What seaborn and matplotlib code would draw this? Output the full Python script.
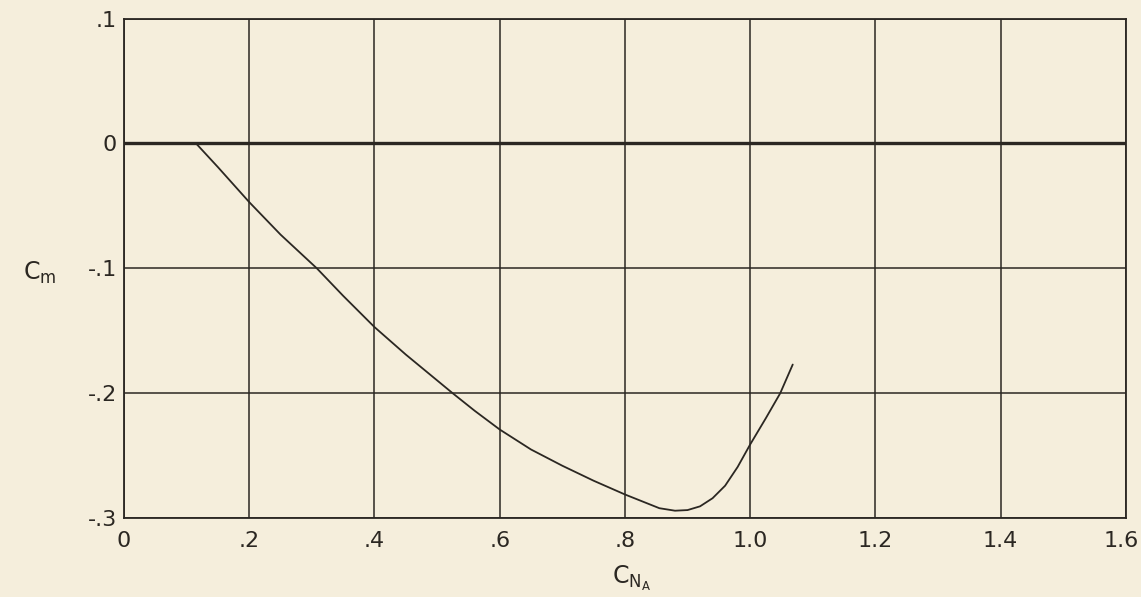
import matplotlib
matplotlib.use("Agg")
import matplotlib.pyplot as plt
import matplotlib.transforms as mtransforms
import seaborn as sns
import pandas as pd

# C_m vs C_NA curve
cna = [0.115, 0.15, 0.2, 0.25, 0.308, 0.35, 0.4, 0.45, 0.525, 0.56, 0.6, 0.65,
       0.7, 0.75, 0.8, 0.83, 0.855, 0.88, 0.9, 0.92, 0.94, 0.96, 0.98, 1.0,
       1.025, 1.048, 1.068]
cm = [0.0, -0.019, -0.047, -0.073, -0.1, -0.122, -0.147, -0.169, -0.2, -0.214,
      -0.229, -0.245, -0.258, -0.27, -0.281, -0.287, -0.292, -0.294, -0.2935,
      -0.2905, -0.284, -0.274, -0.259, -0.241, -0.22, -0.2, -0.177]

# zero reference line
zero_x = [0.0, 1.6]
zero_y = [0.0, 0.0]

x_ticks = [0, 0.2, 0.4, 0.6, 0.8, 1.0, 1.2, 1.4, 1.6]
x_labels = ["0", ".2", ".4", ".6", ".8", "1.0", "1.2", "1.4", "1.6"]
y_ticks = [-0.3, -0.2, -0.1, 0, 0.1]
y_labels = ["-.3", "-.2", "-.1", "0", ".1"]

paper = "#f5eedc"
ink = "#2b2722"

sns.set_theme(style="white")
plt.rcParams["font.family"] = ["DejaVu Sans"]

fig = plt.figure(figsize=(11.41, 5.97), dpi=100, facecolor=paper)
ax = fig.add_axes([0.1087, 0.132, 0.878, 0.837])
ax.set_facecolor(paper)

curve = pd.DataFrame({"cna": cna, "cm": cm})
sns.lineplot(data=curve, x="cna", y="cm", sort=False, color=ink, linewidth=1.3, ax=ax)
sns.lineplot(x=zero_x, y=zero_y, color=ink, linewidth=2.4, ax=ax)

ax.set_xlim(0, 1.6)
ax.set_ylim(-0.3, 0.1)
ax.set_xticks(x_ticks)
ax.set_xticklabels(x_labels)
ax.set_yticks(y_ticks)
ax.set_yticklabels(y_labels)
ax.tick_params(axis="both", length=0, labelsize=16, colors=ink)
ax.tick_params(axis="x", pad=9)
ax.tick_params(axis="y", pad=5)

# last x label sits against the right edge, keep it inside the figure
last = ax.get_xticklabels()[-1]
last.set_horizontalalignment("right")
last.set_transform(last.get_transform() + mtransforms.ScaledTranslation(13 / 100, 0, fig.dpi_scale_trans))

ax.grid(True, color=ink, linewidth=1.1)
for s in ax.spines.values():
    s.set_color(ink)
    s.set_linewidth(1.3)

ax.set_xlabel("")
ax.set_ylabel("")
ax.text(0.81, -0.348, r"C$_{\mathregular{N_A}}$", fontsize=17, color=ink,
        ha="center", va="center", transform=ax.transData, clip_on=False)
ax.text(-0.135, -0.104, r"C$_{\mathregular{m}}$", fontsize=17, color=ink,
        ha="center", va="center", transform=ax.transData, clip_on=False)

fig.savefig("out.png", dpi=100, facecolor=paper)
